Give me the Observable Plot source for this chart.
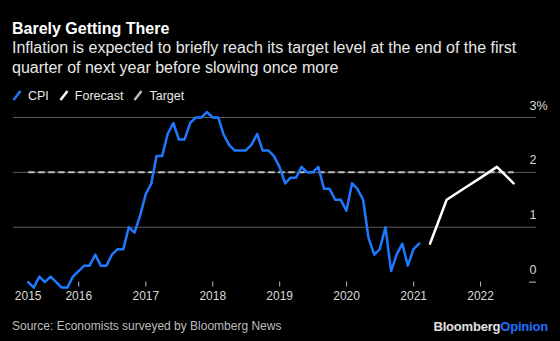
<!DOCTYPE html>
<html>
<head>
<meta charset="utf-8">
<script src="https://cdn.jsdelivr.net/npm/d3@7"></script>
<script src="https://cdn.jsdelivr.net/npm/@observablehq/plot@0.6"></script>
<style>
html,body{margin:0;padding:0;background:#000;}
#wrap{position:relative;width:560px;height:341px;background:#000;overflow:hidden;font-family:"Liberation Sans",Arial,sans-serif;color:#fff;}
.title{position:absolute;left:12px;top:18.5px;font-size:16px;font-weight:bold;line-height:20px;color:#fff;white-space:nowrap;}
.sub{position:absolute;left:12px;top:38px;font-size:16px;line-height:20px;color:#e8e8e8;white-space:nowrap;}
.legend{position:absolute;left:12px;top:87.5px;font-size:12.5px;line-height:16px;color:#e8e8e8;display:flex;align-items:center;white-space:nowrap;}
.legend .item{display:flex;align-items:center;margin-right:10px;}
.legend svg{margin-right:6px;}
#chart{position:absolute;left:0;top:90px;}
#chart svg{overflow:visible;}
.source{position:absolute;left:12px;top:319px;font-size:12px;line-height:15px;color:#bdbdbd;white-space:nowrap;}
.logo{position:absolute;right:12px;top:319px;font-size:13px;line-height:15px;font-weight:bold;color:#e0e0e0;letter-spacing:-0.2px;white-space:nowrap;}
.logo span{color:#1f6fff;}
</style>
</head>
<body>
<div id="wrap">
  <div class="title">Barely Getting There</div>
  <div class="sub">Inflation is expected to briefly reach its target level at the end of the first<br>quarter of next year before slowing once more</div>
  <div class="legend" id="legend"></div>
  <div id="chart"></div>
  <div class="source">Source: Economists surveyed by Bloomberg News</div>
  <div class="logo">Bloomberg<span>Opinion</span></div>
</div>
<script>
// ---- data ----
const seriesNames = ["CPI", "Forecast", "Target"];
const seriesColors = ["#1f78ff", "#ffffff", "#bdbdbd"];

const cpiStartMonth = "2015-03";
const cpiValues = [
  0.0, -0.1, 0.1, 0.0, 0.1, 0.0, -0.1, -0.1, 0.1, 0.2,          // Mar-Dec 2015
  0.3, 0.3, 0.5, 0.3, 0.3, 0.5, 0.6, 0.6, 1.0, 0.9, 1.2, 1.6,   // 2016
  1.8, 2.3, 2.3, 2.7, 2.9, 2.6, 2.6, 2.9, 3.0, 3.0, 3.1, 3.0,   // 2017
  3.0, 2.7, 2.5, 2.4, 2.4, 2.4, 2.5, 2.7, 2.4, 2.4, 2.3, 2.1,   // 2018
  1.8, 1.9, 1.9, 2.1, 2.0, 2.0, 2.1, 1.7, 1.7, 1.5, 1.5, 1.3,   // 2019
  1.8, 1.7, 1.5, 0.8, 0.5, 0.6, 1.0, 0.2, 0.5, 0.7, 0.3, 0.6,   // 2020
  0.7                                                           // Jan 2021
];

const forecastQuarters = ["2021-Q1", "2021-Q2", "2021-Q3", "2021-Q4", "2022-Q1", "2022-Q2"];
const forecastValues = [0.7, 1.5, 1.7, 1.9, 2.1, 1.8];

const targetValue = 2;

const gridValues = [1, 2, 3];
const yLabelValues = [0, 1, 2, 3];
const yLabelTexts = ["0", "1", "2", "3%"];
const tickYears = [2016, 2017, 2018, 2019, 2020, 2021, 2022];
const xLabelTexts = ["2015", "2016", "2017", "2018", "2019", "2020", "2021", "2022"];

// ---- build tables ----
const monthEnd = (d) => d3.utcDay.offset(d3.utcMonth.offset(d, 1), -1);
const start = new Date(cpiStartMonth + "-01T00:00:00Z");
const cpi = cpiValues.map((v, i) => ({date: monthEnd(d3.utcMonth.offset(start, i)), value: v}));
const quarterEnd = (s) => {
  const [y, q] = s.split("-Q").map(Number);
  return d3.utcDay.offset(new Date(Date.UTC(y, q * 3, 1)), -1);
};
const forecast = forecastQuarters.map((q, i) => ({date: quarterEnd(q), value: forecastValues[i]}));
const target = [
  {date: cpi[0].date, value: targetValue},
  {date: forecast[forecast.length - 1].date, value: targetValue}
];
const tickDates = tickYears.map(y => new Date(Date.UTC(y, 0, 1)));
const xLabels = xLabelTexts.map((t, i) => ({date: i === 0 ? cpi[0].date : tickDates[i - 1], text: t}));
const yLabels = yLabelValues.map((v, i) => ({value: v, text: yLabelTexts[i]}));

// ---- legend ----
const legend = document.getElementById("legend");
seriesNames.forEach((name, i) => {
  const item = document.createElement("div");
  item.className = "item";
  item.innerHTML = `<svg width="10" height="11"><line x1="1.5" y1="10" x2="8.5" y2="1" stroke="${seriesColors[i]}" stroke-width="2.5" stroke-linecap="butt"/></svg><span>${name}</span>`;
  legend.appendChild(item);
});

// ---- chart ----
const chart = Plot.plot({
  width: 560,
  height: 220,
  marginLeft: 13,
  marginRight: 24,
  marginTop: 27,
  marginBottom: 28.4,
  style: {background: "transparent", color: "#bdbdbd", fontFamily: "'Liberation Sans', Arial, sans-serif", fontSize: "12px", overflow: "visible"},
  x: {type: "utc", domain: [new Date("2015-01-10T00:00:00Z"), new Date("2022-11-02T00:00:00Z")], ticks: tickDates, tickSize: 5, tickFormat: () => "", label: null},
  y: {domain: [0, 3], axis: null},
  marks: [
    Plot.ruleY(gridValues, {stroke: "#5a5a5a", strokeWidth: 1}),
    Plot.ruleY([0], {stroke: "#bdbdbd", strokeWidth: 1, insetLeft: 516}),
    Plot.line(target, {x: "date", y: "value", stroke: seriesColors[2], strokeWidth: 2, strokeDasharray: "6.5,3.5", strokeLinecap: "butt"}),
    Plot.line(cpi, {x: "date", y: "value", stroke: seriesColors[0], strokeWidth: 2.5}),
    Plot.line(forecast, {x: "date", y: "value", stroke: seriesColors[1], strokeWidth: 2.5}),
    Plot.text(yLabels, {y: "value", text: "text", frameAnchor: "right", dx: -7, dy: -12, textAnchor: "start", fontSize: 12.5, fill: "#d9d9d9"}),
    Plot.text(xLabels, {x: "date", text: "text", frameAnchor: "bottom", dy: 18, fontSize: 12, fill: "#d9d9d9"})
  ]
});
document.getElementById("chart").appendChild(chart);
</script>
</body>
</html>
